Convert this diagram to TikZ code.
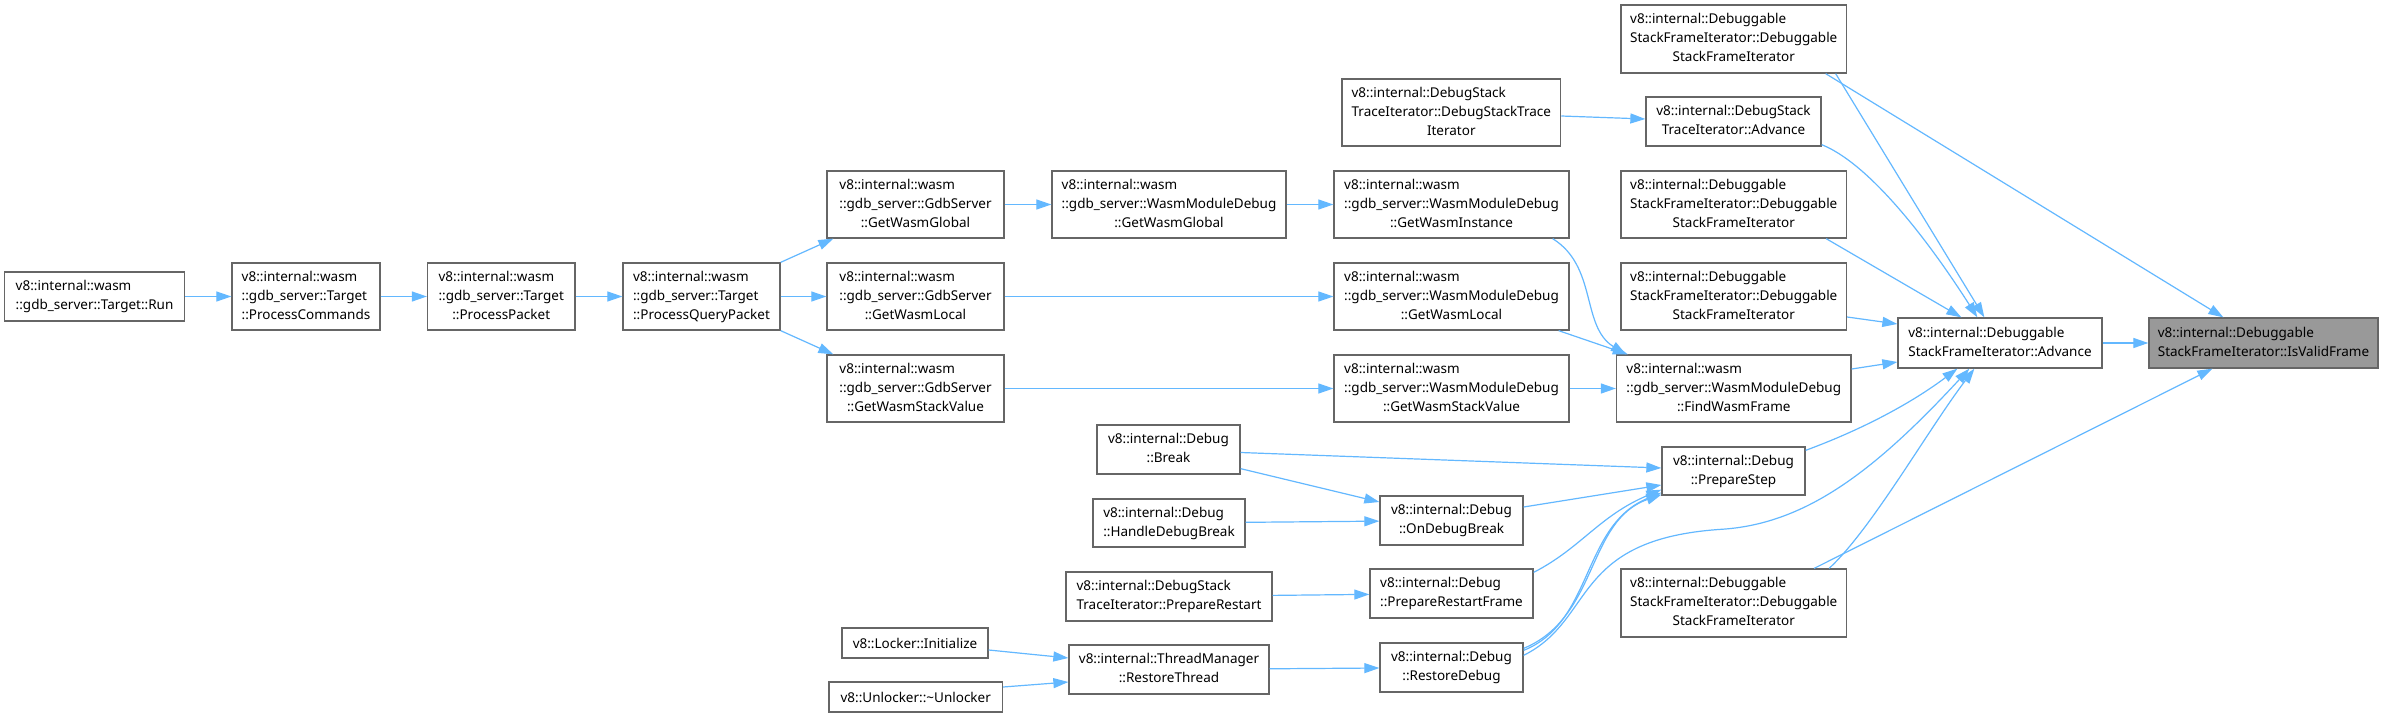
\documentclass[tikz,border=0pt]{standalone}
\usepackage{fontspec}
\setmainfont{Noto Sans}
\usetikzlibrary{arrows.meta,calc}
\definecolor{edgec}{HTML}{63B8FF}
\definecolor{boxc}{HTML}{666666}
\definecolor{mainf}{HTML}{999999}
\newcommand{\lbl}[2]{\begin{tabular}{@{}l@{}}#1\\\multicolumn{1}{@{}c@{}}{#2}\end{tabular}}
\newcommand{\mybox}[7][box]{\node[#1, minimum width={(#4-#3)*1pt}, minimum height={(#6-#5)*1pt}] (#2) at ({(#3+#4)/2},{(#5+#6)/2}) {#7};}
\tikzset{
  box/.style={draw=boxc, fill=white, line width=1.3pt, inner sep=0pt, font=\fontsize{13.5}{19}\selectfont},
  mainbox/.style={box, fill=mainf},
  edge/.style={draw=edgec, line width=1.2pt, -{Triangle[length=15pt,width=10pt]}},
}
\begin{document}
\begin{tikzpicture}[x=1pt,y=-1pt]
\useasboundingbox[fill=white] (0,0) rectangle (2383,717);
% nodes
\mybox{run}{4.6}{184.5}{272}{321}{\lbl{v8::internal::wasm}{::gdb\_server::Target::Run}}
\mybox{pcmd}{232}{380}{263}{330}{\lbl{v8::internal::wasm\\::gdb\_server::Target}{::ProcessCommands}}
\mybox{ppkt}{427.5}{575}{263}{330}{\lbl{v8::internal::wasm\\::gdb\_server::Target}{::ProcessPacket}}
\mybox{pqp}{623}{780}{263}{330}{\lbl{v8::internal::wasm\\::gdb\_server::Target}{::ProcessQueryPacket}}
\mybox{gsglob}{827}{1004}{171}{238}{\lbl{v8::internal::wasm\\::gdb\_server::GdbServer}{::GetWasmGlobal}}
\mybox{gsloc}{827}{1004}{263}{330}{\lbl{v8::internal::wasm\\::gdb\_server::GdbServer}{::GetWasmLocal}}
\mybox{gsstack}{827}{1004}{355}{422}{\lbl{v8::internal::wasm\\::gdb\_server::GdbServer}{::GetWasmStackValue}}
\mybox{wmglob}{1052}{1286}{171}{238}{\lbl{v8::internal::wasm\\::gdb\_server::WasmModuleDebug}{::GetWasmGlobal}}
\mybox{wminst}{1334}{1569}{171}{238}{\lbl{v8::internal::wasm\\::gdb\_server::WasmModuleDebug}{::GetWasmInstance}}
\mybox{wmloc}{1334}{1569}{263}{330}{\lbl{v8::internal::wasm\\::gdb\_server::WasmModuleDebug}{::GetWasmLocal}}
\mybox{wmstack}{1334}{1569}{355}{422}{\lbl{v8::internal::wasm\\::gdb\_server::WasmModuleDebug}{::GetWasmStackValue}}
\mybox{find}{1616.5}{1851}{355}{422}{\lbl{v8::internal::wasm\\::gdb\_server::WasmModuleDebug}{::FindWasmFrame}}
\mybox{dsfia}{1621}{1846.5}{5}{73}{\lbl{v8::internal::Debuggable\\StackFrameIterator::Debuggable}{StackFrameIterator}}
\mybox{dstictor}{1342}{1560.6}{79}{146}{\lbl{v8::internal::DebugStack\\TraceIterator::DebugStackTrace}{Iterator}}
\mybox{dstiadv}{1646}{1821}{97}{146}{\lbl{v8::internal::DebugStack}{TraceIterator::Advance}}
\mybox{dsfib}{1621}{1846.5}{171}{238}{\lbl{v8::internal::Debuggable\\StackFrameIterator::Debuggable}{StackFrameIterator}}
\mybox{dsfic}{1621}{1846.5}{263}{330}{\lbl{v8::internal::Debuggable\\StackFrameIterator::Debuggable}{StackFrameIterator}}
\mybox{dsfid}{1621}{1846.5}{569}{637}{\lbl{v8::internal::Debuggable\\StackFrameIterator::Debuggable}{StackFrameIterator}}
\mybox{adv}{1898}{2102}{318}{368}{\lbl{v8::internal::Debuggable}{StackFrameIterator::Advance}}
\mybox[mainbox]{valid}{2149}{2378}{318}{368}{\lbl{v8::internal::Debuggable}{StackFrameIterator::IsValidFrame}}
\mybox{brk}{1097}{1240}{425}{474}{\lbl{v8::internal::Debug}{::Break}}
\mybox{hdb}{1093}{1245}{499}{547}{\lbl{v8::internal::Debug}{::HandleDebugBreak}}
\mybox{prestart}{1066}{1272}{572}{621}{\lbl{v8::internal::DebugStack}{TraceIterator::PrepareRestart}}
\mybox{rthread}{1069}{1269}{645}{694}{\lbl{v8::internal::ThreadManager}{::RestoreThread}}
\mybox{odb}{1380}{1523}{496}{545}{\lbl{v8::internal::Debug}{::OnDebugBreak}}
\mybox{prf}{1370}{1533}{569}{618}{\lbl{v8::internal::Debug}{::PrepareRestartFrame}}
\mybox{rdebug}{1380}{1523}{643}{692}{\lbl{v8::internal::Debug}{::RestoreDebug}}
\mybox{pstep}{1662}{1805}{447}{495}{\lbl{v8::internal::Debug}{::PrepareStep}}
\mybox{locker}{842}{988}{628}{658}{v8::Locker::Initialize}
\mybox{unlocker}{829}{1002.5}{682}{712}{v8::Unlocker::\textasciitilde Unlocker}
% edges
\draw[edge] (run) -- (pcmd);
\draw[edge] (pcmd) -- (ppkt);
\draw[edge] (ppkt) -- (pqp);
\draw[edge] (pqp.north east) -- ($(gsglob.south west)+(7,0)$);
\draw[edge] (pqp) -- (gsloc);
\draw[edge] (pqp.south east) -- ($(gsstack.north west)+(7,0)$);
\draw[edge] (gsglob) -- (wmglob);
\draw[edge] (gsloc) -- (wmloc);
\draw[edge] (gsstack) -- (wmstack);
\draw[edge] (wmglob) -- (wminst);
\draw[edge] (wmstack) -- (find);
\draw[edge] ($(wminst.south east)+(-17,0)$) .. controls ($(wminst.south east)+(28,28)$) and ($(find.north west)+(-35,-28)$) .. ($(find.north west)+(10,0)$);
\draw[edge] ($(wmloc.south east)+(-11,0)$) -- ($(find.north west)+(12,0)$);
\draw[edge] ($(find.east)+(0,-19.5)$) -- ($(adv.west)+(0,19)$);
\draw[edge] ($(dsfic.east)+(0,20.5)$) -- ($(adv.west)+(0,-19)$);
\draw[edge] ($(dsfib.south east)+(-21,0)$) -- ($(adv.north west)+(64,0)$);
\draw[edge] ($(dstiadv.south east)+(0,-2)$) .. controls ($(dstiadv.south east)+(55,20)$) and ($(adv.north west)+(45,-55)$) .. ($(adv.north west)+(80,0)$);
\draw[edge] ($(dsfia.south east)+(-11.5,0)$) -- ($(adv.north west)+(87,0)$);
\draw[edge] ($(dsfia.south east)+(-21.5,0)$) -- ($(valid.north west)+(75,0)$);
\draw[edge] (adv) -- (valid);
\draw[edge] ($(dsfid.north east)+(-33,0)$) -- ($(valid.south west)+(64,0)$);
\draw[edge] ($(dsfid.north east)+(-18,0)$) .. controls ($(dsfid.north east)+(25,-40)$) and ($(adv.south west)+(30,62)$) .. ($(adv.south west)+(77,0)$);
\draw[edge] ($(pstep.north east)+(0,4)$) .. controls ($(pstep.north east)+(65,-20)$) and ($(adv.south west)+(20,30)$) .. ($(adv.south west)+(60,0)$);
\draw[edge] ($(rdebug.north east)+(0,13)$) .. controls ($(rdebug.north east)+(72,-23)$) and ($(rdebug.north east)+(47,-103)$) .. ($(rdebug.north east)+(197,-113)$) .. controls ($(rdebug.north east)+(280,-118)$) and ($(adv.south west)+(-25,105)$) .. ($(adv.south west)+(72,0)$);
\draw[edge] ($(brk.east)+(0,3)$) -- ($(pstep.west)+(0,-3)$);
\draw[edge] ($(brk.south east)+(0,-6)$) -- ($(odb.west)+(0,-18.5)$);
\draw[edge] (hdb) -- (odb);
\draw[edge] ($(odb.east)+(0,-13.5)$) -- ($(pstep.west)+(0,14)$);
\draw[edge] (prestart) -- (prf);
\draw[edge] ($(prf.north east)+(0,4)$) .. controls ($(prf.north east)+(47,-20)$) and ($(pstep.south west)+(-62,20)$) .. ($(pstep.south west)+(0,-6)$);
\draw[edge] ($(rdebug.north east)+(0,8)$) .. controls ($(rdebug.north east)+(70,-20)$) and ($(pstep.south west)+(-80,30)$) .. ($(pstep.south west)+(0,-3)$);
\draw[edge] ($(rdebug.north east)+(0,6)$) .. controls ($(rdebug.north east)+(75,-25)$) and ($(pstep.south west)+(-75,25)$) .. ($(pstep.south west)+(0,-1)$);
\draw[edge] ($(locker.east)+(0,7)$) -- ($(rthread.west)+(0,-11.5)$);
\draw[edge] ($(unlocker.east)+(0,-10)$) -- ($(rthread.west)+(0,12.5)$);
\draw[edge] (rthread) -- (rdebug);
\draw[edge] ($(dstictor.east)+(0,3.5)$) -- ($(dstiadv.west)+(0,-2.5)$);
\end{tikzpicture}
\end{document}
